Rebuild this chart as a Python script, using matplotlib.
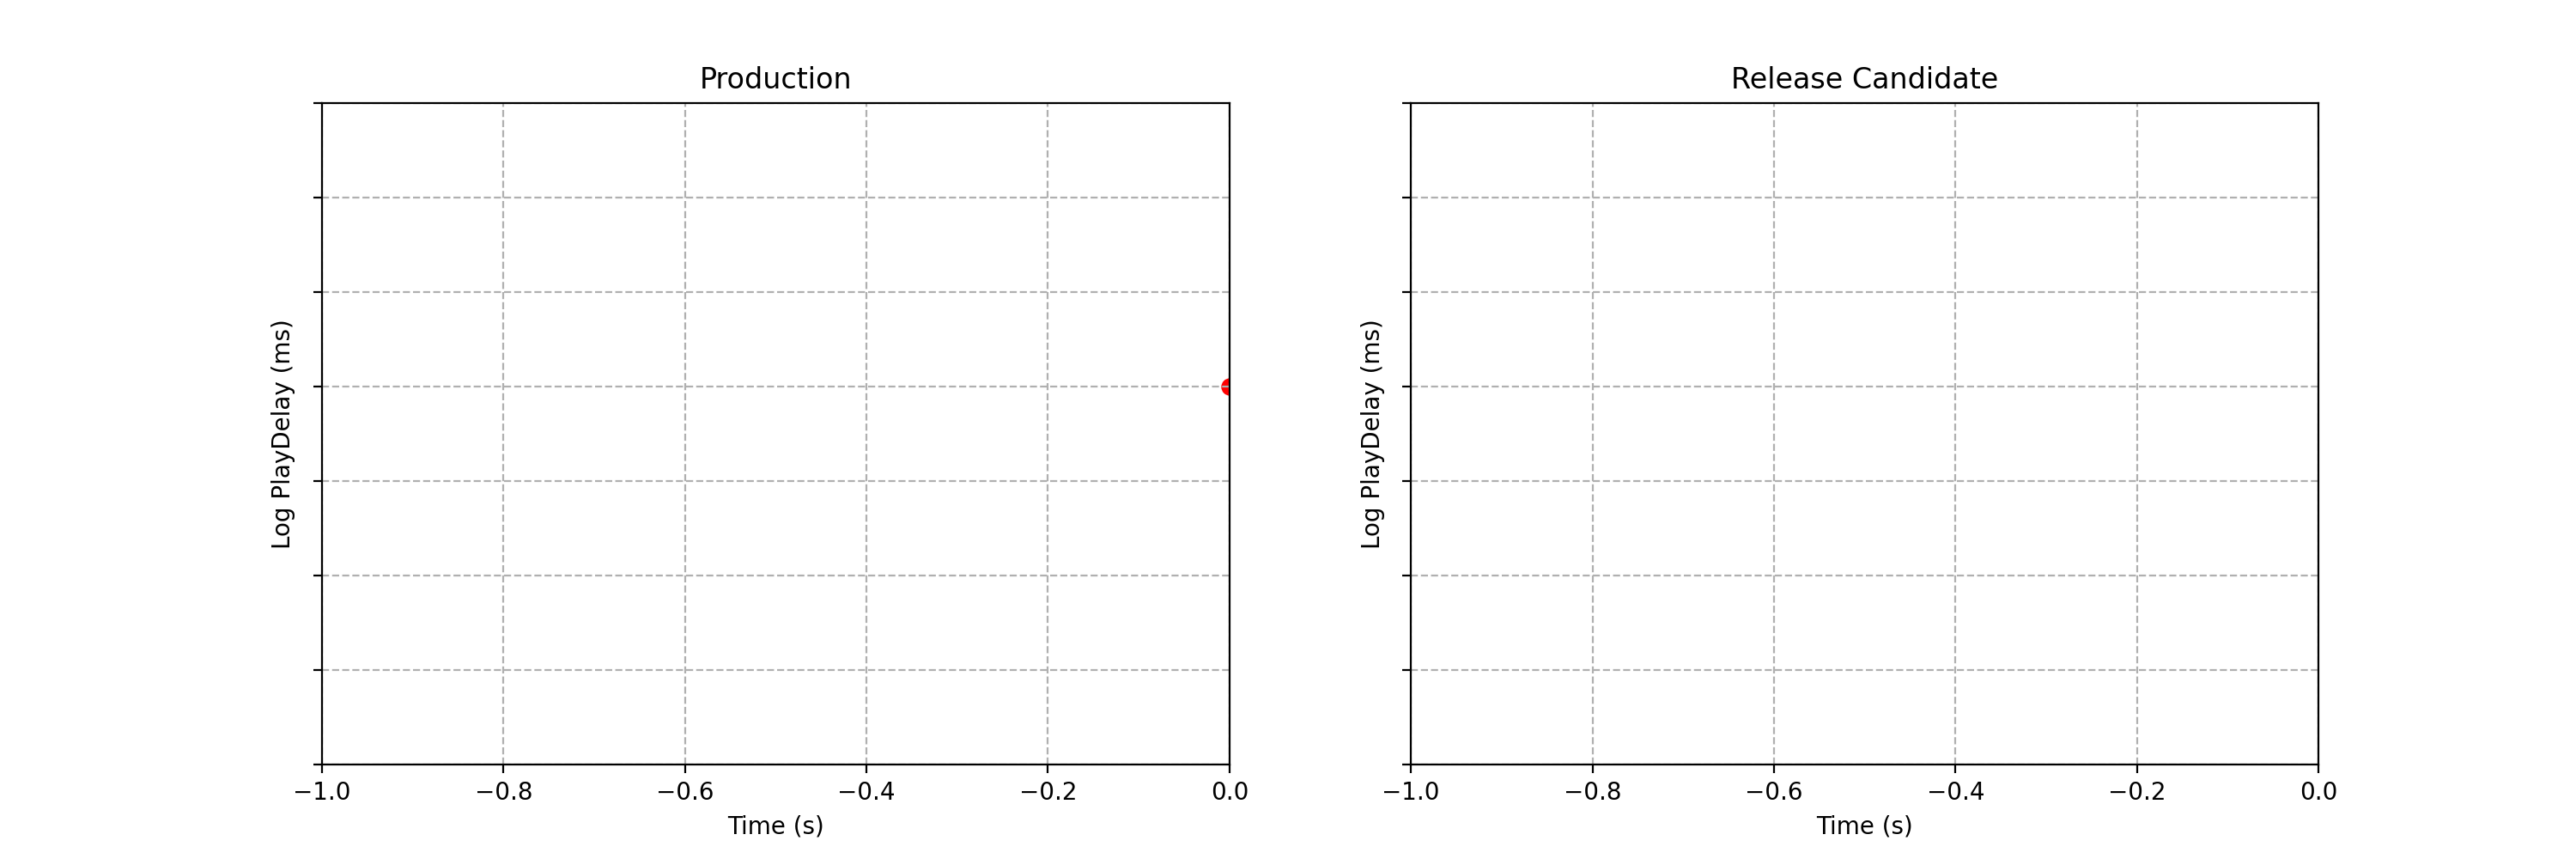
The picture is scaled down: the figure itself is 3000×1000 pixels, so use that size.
import matplotlib
matplotlib.use("Agg")
import matplotlib.pyplot as plt

# 数据
titles = ["Production", "Release Candidate"]
prod_time = [0.0]
prod_delay = [4.0]
rc_time = []
rc_delay = []

y_ticks = list(range(8))

fig, axes = plt.subplots(1, 2, figsize=(15, 5), dpi=200)

series = [(prod_time, prod_delay), (rc_time, rc_delay)]
for ax, title, (t, d) in zip(axes, titles, series):
    if t:
        ax.scatter(t, d, color="red", s=40)
    ax.set_title(title)
    ax.set_xlabel("Time (s)")
    ax.set_ylabel("Log PlayDelay (ms)")
    ax.set_xlim(-1.0, 0.0)
    ax.set_ylim(y_ticks[0], y_ticks[-1])
    ax.set_yticks(y_ticks)
    ax.set_yticklabels([])
    ax.grid(True, linestyle="--")

plt.savefig("out.png")
